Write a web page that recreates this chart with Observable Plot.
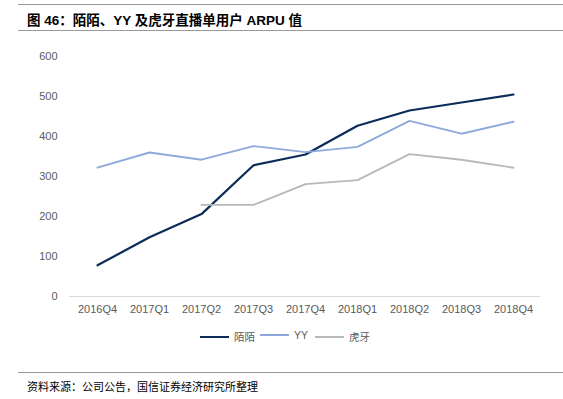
<!DOCTYPE html>
<html><head><meta charset="utf-8">
<script src="https://cdn.jsdelivr.net/npm/d3@7"></script>
<script src="https://cdn.jsdelivr.net/npm/@observablehq/plot@0.6"></script>
<style>
body{margin:0;background:#fff;width:563px;height:399px;position:relative;overflow:hidden;font-family:"Liberation Sans","Noto Sans CJK SC",sans-serif;}
.rule{position:absolute;left:18px;right:0;height:0;border-top:1.5px solid #9a9a9a;}
#title{position:absolute;left:27px;top:9px;font-size:13.5px;font-weight:bold;color:#000;font-family:"Liberation Sans","Noto Sans CJK SC",sans-serif;white-space:nowrap;}
#chart{position:absolute;left:0;top:40px;}
#legend{position:absolute;top:329px;left:0;width:563px;font-size:10.5px;color:#595959;}
.item{position:absolute;display:flex;align-items:center;white-space:nowrap;}
.sw{display:inline-block;width:29px;height:0;margin-right:5px;}
#foot{position:absolute;left:27px;top:378px;font-size:11px;color:#000;font-family:"Noto Sans CJK SC",sans-serif;white-space:nowrap;}
</style></head>
<body>
<div class="rule" style="top:4px"></div>
<div id="title">图 46：陌陌、YY 及虎牙直播单用户 ARPU 值</div>
<div class="rule" style="top:30px"></div>
<div id="chart"></div>
<div id="legend"></div>
<div class="rule" style="top:372px"></div>
<div id="foot">资料来源：公司公告，国信证券经济研究所整理</div>
<script>
const quarters = ["2016Q4","2017Q1","2017Q2","2017Q3","2017Q4","2018Q1","2018Q2","2018Q3","2018Q4"];
const momo = [78,148,206,328,355,427,465,485,505];
const yy = [322,360,342,376,361,374,439,407,437];
const huya = [null,null,229,229,281,291,356,342,322];
const seriesNames = ["陌陌","YY","虎牙"];
const seriesColors = ["#0b2b58","#8eaadc","#b8b8b8"];
const yTicks = [0,100,200,300,400,500,600];

const rows = [];
[momo, yy, huya].forEach((vals, si) => {
  vals.forEach((v, i) => { if (v != null) rows.push({q: quarters[i], v, s: seriesNames[si]}); });
});

const chart = Plot.plot({
  width: 563,
  height: 280,
  marginLeft: 69,
  marginRight: 23,
  marginTop: 16,
  marginBottom: 24,
  style: {fontFamily: "Liberation Sans, sans-serif", fontSize: "11px", color: "#595959", background: "#fff"},
  x: {type: "point", domain: quarters, padding: 0.5, label: null},
  y: {domain: [0, 600], label: null},
  color: {domain: seriesNames, range: seriesColors},
  marks: [
    Plot.ruleY([0], {stroke: "#d9d9d9", strokeWidth: 1}),
    Plot.axisY({ticks: yTicks, tickSize: 0, tickPadding: 12, label: null, fill: "#595959"}),
    Plot.axisX({tickSize: 0, tickPadding: 9, label: null, fill: "#595959"}),
    Plot.line(rows, {x: "q", y: "v", z: "s", stroke: "s", strokeWidth: d => d.s === "陌陌" ? 2.2 : 1.9})
  ]
});
document.getElementById("chart").appendChild(chart);

const legend = document.getElementById("legend");
const lx = [200, 260, 315];
seriesNames.forEach((n, i) => {
  const it = document.createElement("div");
  it.className = "item";
  it.style.left = lx[i] + "px";
  const sw = document.createElement("span");
  sw.className = "sw";
  sw.style.borderTop = (i === 0 ? 2.5 : 2) + "px solid " + seriesColors[i];
  const t = document.createElement("span");
  t.textContent = n;
  t.style.fontFamily = i === 1 ? "Liberation Sans, sans-serif" : "Noto Sans CJK SC, sans-serif";
  it.appendChild(sw); it.appendChild(t);
  legend.appendChild(it);
});
</script>
</body></html>
